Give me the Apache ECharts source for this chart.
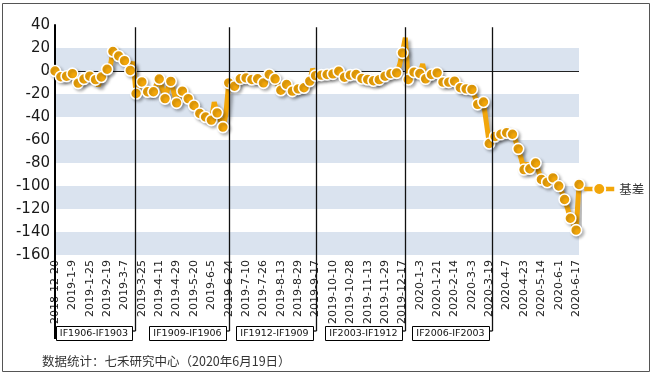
<!DOCTYPE html>
<html><head><meta charset="utf-8">
<script src="https://cdn.jsdelivr.net/npm/echarts@6/dist/echarts.min.js"></script>
<style>html,body{margin:0;padding:0;background:#fff}#c{width:654px;height:380px}</style>
</head><body><div id="c"></div>
<script>
// ---- data ----
const tickLabels = ['2018-12-20','2019-1-9','2019-1-25','2019-2-19','2019-3-7','2019-3-25','2019-4-11','2019-4-29','2019-5-20','2019-6-5','2019-6-24','2019-7-10','2019-7-26','2019-8-13','2019-8-29','2019-9-17','2019-10-10','2019-10-28','2019-11-13','2019-11-29','2019-12-17','2020-1-3','2020-1-21','2020-2-14','2020-3-3','2020-3-19','2020-4-7','2020-4-23','2020-5-14','2020-6-1','2020-6-17'];
// basis sampled every 2 trading days (6 samples per tick label)
const basis = [
  0, -3, -5, -6, -4.5, -3.5, -2.3, -6, -10.5, -9,
  -7, -5.5, -4.5, -6, -7.5, -13, -5.2, -2, 1.5, 3,
  17, 15, 13, 11, 9, 6, 0.5, 8, -19.6, -14,
  -9.5, -14, -18, -18, -18, -12, -7, -15, -24, -15,
  -9, -18, -27.7, -22, -17.5, -21, -24, -27, -30, -34,
  -37, -39, -40, -41.5, -42.7, -27, -36.4, -42, -48.8, -38,
  -10.3, -10, -13.2, -9, -6.8, -6.5, -6, -7, -7.4, -7,
  -6.8, -8.5, -10.3, -6, -3, -5, -6.8, -12, -16.7, -13,
  -11.7, -15, -17.5, -16.5, -15.5, -15, -14.6, -11, -8.8, 2,
  -4, -3.8, -3.6, -3.2, -3, -2.7, -2.5, -1, -0.2, -3,
  -5.4, -4.5, -3.6, -3.3, -3, -5, -6.5, -7, -7.4, -8,
  -8.5, -9.4, -7.5, -5.9, -4.5, -3, -2.3, -1.6, -1.6, 5,
  15.8, 29, -7.4, -3, -1, -1.5, -2.2, 6, -6.8, -5,
  -3, -2.3, -1.6, -4, -9.7, -9.8, -9.7, -9, -8.8, -12,
  -14.6, -15, -15.5, -15.8, -16, -22, -29, -28, -27, -45,
  -63, -60, -57, -56.5, -55, -54, -53.7, -54, -55, -60,
  -67.7, -76, -85.7, -80, -85, -82, -80, -87, -94.3, -95.5,
  -96.7, -94.5, -92.9, -96, -100, -105, -111.7, -119, -128, -133,
  -138.4, -98.7
];
const rollPositions = [27.6, 60.1, 90.1, 120.9, 151.0];
const contractLabels = ['IF1906-IF1903','IF1909-IF1906','IF1912-IF1909','IF2003-IF1912','IF2006-IF2003'];
const seriesName = '基差';
const footnote = '数据统计：七禾研究中心（2020年6月19日）';

// ---- build ----
const categories = basis.map((_, i) => i % 6 === 0 ? tickLabels[i / 6] : 'p' + i);
const lastIdx = basis.length - 1;
const seriesData = basis.map((v, i) => (i % 2 === 0 || i === lastIdx) ? v : { value: v, symbol: 'none' });

const ORANGE = '#F2A60A';
const chart = echarts.init(document.getElementById('c'), null, { renderer: 'canvas' });
chart.setOption({
  animation: false,
  backgroundColor: '#fff',
  grid: { left: 55, right: 75, top: 25, bottom: 125 },
  legend: {
    data: [seriesName], left: 577, top: 177, itemWidth: 30, itemHeight: 15,
    lineStyle: { width: 4.5 },
    textStyle: { fontFamily: 'Noto Sans CJK SC', fontSize: 12.5, color: '#333' }
  },
  xAxis: {
    type: 'category', data: categories, boundaryGap: false,
    axisLine: { show: false }, axisTick: { show: false },
    axisLabel: { interval: 5, rotate: 90, margin: 5, fontFamily: 'DejaVu Sans', fontSize: 11, color: '#222' },
    splitLine: { show: false }
  },
  yAxis: {
    type: 'value', min: -160, max: 40, interval: 20,
    axisLine: { show: true, lineStyle: { color: '#000', width: 2 } },
    axisTick: { show: false },
    axisLabel: { margin: 5, fontFamily: 'DejaVu Sans', fontSize: 15, color: '#1a1a1a' },
    splitLine: { show: false },
    splitArea: { show: true, areaStyle: { color: ['#dae3ef', '#ffffff'] } }
  },
  series: [{
    name: seriesName, type: 'line', data: seriesData, showAllSymbol: true,
    symbol: 'circle', symbolSize: 11,
    lineStyle: { color: ORANGE, width: 5, shadowColor: 'rgba(0,0,0,0.3)', shadowBlur: 3, shadowOffsetX: 3, shadowOffsetY: 3 },
    itemStyle: { color: ORANGE, borderColor: '#fff', borderWidth: 1.6, shadowColor: 'rgba(0,0,0,0.25)', shadowBlur: 3, shadowOffsetX: 2, shadowOffsetY: 2 },
    markLine: {
      silent: true, symbol: 'none', z: 1, label: { show: false },
      lineStyle: { color: '#222', width: 1, type: 'solid', shadowBlur: 0, shadowColor: 'transparent' },
      data: [{ yAxis: 0 }]
    }
  }]
});

// ---- annotations (roll lines + contract boxes) ----
function px(idx, val) { return chart.convertToPixel({ gridIndex: 0 }, [idx, val]); }
function xAt(pos) {
  const f = Math.floor(pos), c = Math.ceil(pos);
  const a = px(f, 0)[0], b = px(c, 0)[0];
  return a + (pos - f) * (b - a);
}
const topY = px(0, 38)[1];
const bottomY = px(0, -160)[1];
const axisX = px(0, 0)[0];
const boxTop = 326, boxH = 14, boxW = 77, connY = 331;
const g = [];
g.push({ type: 'rect', shape: { x: 2.5, y: 3.5, width: 647, height: 368 }, style: { fill: null, stroke: '#555', lineWidth: 1 }, z: 0, silent: true });
g.push({ type: 'line', shape: { x1: axisX, y1: bottomY, x2: axisX, y2: boxTop + boxH - 1 }, style: { stroke: '#000', lineWidth: 2 }, z: 10 });
rollPositions.forEach((p, k) => {
  const rx = Math.round(xAt(p)) + 0.5;
  g.push({ type: 'line', shape: { x1: rx, y1: topY, x2: rx, y2: connY }, style: { stroke: '#111', lineWidth: 1.3 }, z: 10 });
  const right = rx - 3.5;
  const left = k === 0 ? axisX + 1 : right - boxW;
  g.push({ type: 'line', shape: { x1: right, y1: connY, x2: rx, y2: connY }, style: { stroke: '#111', lineWidth: 1.3 }, z: 10 });
  g.push({ type: 'rect', shape: { x: Math.round(left) + 0.5, y: boxTop + 0.5, width: Math.round(right - left), height: boxH }, style: { fill: '#fff', stroke: '#000', lineWidth: 1 }, z: 11 });
  g.push({ type: 'text', x: (left + right) / 2, y: boxTop + boxH / 2 + 1, style: { text: contractLabels[k], font: '9.5px "DejaVu Sans"', fill: '#111', align: 'center', verticalAlign: 'middle' }, z: 12 });
});
g.push({ type: 'text', x: 42, y: 361, style: { text: footnote, font: '12.5px "Noto Sans CJK SC"', fill: '#333', verticalAlign: 'middle' }, z: 12 });
chart.setOption({ graphic: g });
</script>
</body></html>
